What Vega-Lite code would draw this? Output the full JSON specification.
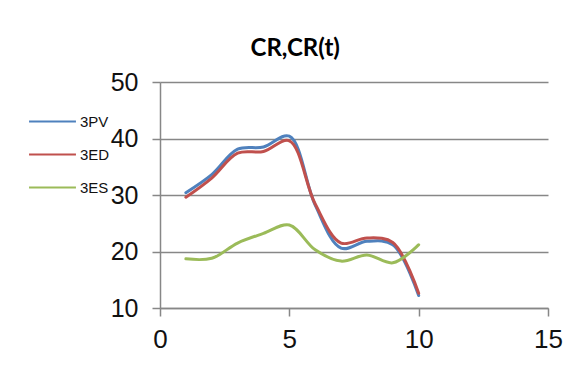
{
  "$schema": "https://vega.github.io/schema/vega-lite/v6.json",
  "width": 388,
  "height": 226,
  "autosize": {"type": "none"},
  "padding": {"left": 160, "top": 82, "right": 24, "bottom": 68},
  "background": "white",
  "title": {
    "text": "CR,CR(t)",
    "font": "Lato",
    "fontSize": 24,
    "fontWeight": "bold",
    "color": "#000000",
    "anchor": "middle",
    "frame": "bounds",
    "offset": 9
  },
  "config": {
    "view": {"stroke": null},
    "axis": {
      "labelFont": "'Liberation Sans Narrow', 'Liberation Sans', sans-serif",
      "labelColor": "#111111",
      "domainColor": "#878787",
      "tickColor": "#878787",
      "gridColor": "#878787",
      "domainWidth": 1.5,
      "tickWidth": 1.5,
      "gridWidth": 1.5,
      "tickSize": 8,
      "title": null
    }
  },
  "data": {
    "values": [
      {"t": 1, "series": "3PV", "cr": 30.4},
      {"t": 2, "series": "3PV", "cr": 33.6},
      {"t": 3, "series": "3PV", "cr": 38.1},
      {"t": 4, "series": "3PV", "cr": 38.5},
      {"t": 5, "series": "3PV", "cr": 40.4},
      {"t": 6, "series": "3PV", "cr": 28.2},
      {"t": 7, "series": "3PV", "cr": 20.6},
      {"t": 8, "series": "3PV", "cr": 21.8},
      {"t": 9, "series": "3PV", "cr": 21.2},
      {"t": 10, "series": "3PV", "cr": 12.2},
      {"t": 1, "series": "3ED", "cr": 29.6},
      {"t": 2, "series": "3ED", "cr": 33.0},
      {"t": 3, "series": "3ED", "cr": 37.4},
      {"t": 4, "series": "3ED", "cr": 37.7},
      {"t": 5, "series": "3ED", "cr": 39.6},
      {"t": 6, "series": "3ED", "cr": 28.4},
      {"t": 7, "series": "3ED", "cr": 21.5},
      {"t": 8, "series": "3ED", "cr": 22.4},
      {"t": 9, "series": "3ED", "cr": 21.6},
      {"t": 10, "series": "3ED", "cr": 12.6},
      {"t": 1, "series": "3ES", "cr": 18.7},
      {"t": 2, "series": "3ES", "cr": 18.8},
      {"t": 3, "series": "3ES", "cr": 21.5},
      {"t": 4, "series": "3ES", "cr": 23.2},
      {"t": 5, "series": "3ES", "cr": 24.7},
      {"t": 6, "series": "3ES", "cr": 20.3},
      {"t": 7, "series": "3ES", "cr": 18.3},
      {"t": 8, "series": "3ES", "cr": 19.4},
      {"t": 9, "series": "3ES", "cr": 18.0},
      {"t": 10, "series": "3ES", "cr": 21.2}
    ]
  },
  "mark": {"type": "line", "interpolate": "catmull-rom", "strokeWidth": 3, "strokeCap": "round"},
  "encoding": {
    "x": {
      "field": "t",
      "type": "quantitative",
      "scale": {"domain": [0, 15], "nice": false},
      "axis": {"values": [0, 5, 10, 15], "grid": false, "labelFontSize": 26, "labelPadding": 10, "labelFlush": false}
    },
    "y": {
      "field": "cr",
      "type": "quantitative",
      "scale": {"domain": [10, 50], "nice": false, "zero": false},
      "axis": {"values": [10, 20, 30, 40, 50], "grid": true, "labelFontSize": 25, "labelPadding": 14}
    },
    "color": {
      "field": "series",
      "type": "nominal",
      "sort": ["3PV", "3ED", "3ES"],
      "scale": {"domain": ["3PV", "3ED", "3ES"], "range": ["#4F81BD", "#C0504D", "#9BBB59"]},
      "legend": {
        "orient": "none",
        "legendX": -132,
        "legendY": 15,
        "title": null,
        "symbolType": "stroke",
        "symbolSize": 2200,
        "symbolStrokeWidth": 2,
        "rowPadding": -14,
        "labelFont": "'Liberation Sans Narrow', 'Liberation Sans', sans-serif",
        "labelFontSize": 15,
        "labelColor": "#111111",
        "labelOffset": 3
      }
    }
  }
}
